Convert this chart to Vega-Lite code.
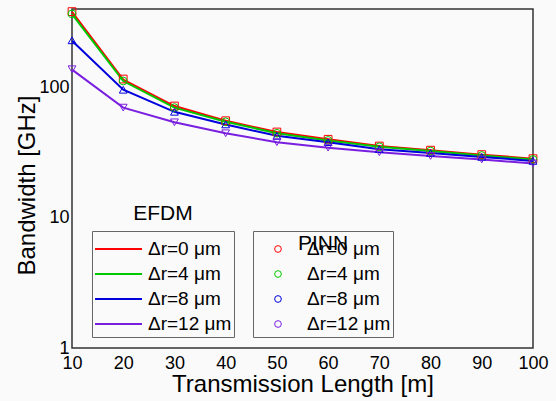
{
  "$schema": "https://vega.github.io/schema/vega-lite/v6.json",
  "width": 461,
  "height": 339,
  "autosize": {"type": "none"},
  "padding": {"left": 72, "top": 9, "right": 23, "bottom": 53},
  "background": "#fafafa",
  "config": {
    "font": "Liberation Sans",
    "view": {"stroke": "#333333", "strokeWidth": 1.5, "fill": "#fafafa"},
    "axis": {"grid": false, "ticks": false, "domain": false, "labelFontSize": 18, "labelColor": "#000000", "titleFontSize": 24, "titleFontWeight": "normal", "titleColor": "#000000"},
    "legend": {"labelFontSize": 19, "titleFontSize": 21, "titleFontWeight": "normal", "titleColor": "#000000", "labelColor": "#000000", "padding": 2, "fillColor": "#fafafa", "strokeColor": "#666666", "titleAnchor": "middle", "orient": "none", "clipHeight": 21, "rowPadding": 4, "titlePadding": -15.5}
  },
  "datasets": {
    "efdm": [
      {"length": 10, "series": "Δr=0 μm", "bandwidth": 380},
      {"length": 20, "series": "Δr=0 μm", "bandwidth": 115},
      {"length": 30, "series": "Δr=0 μm", "bandwidth": 72},
      {"length": 40, "series": "Δr=0 μm", "bandwidth": 55.5},
      {"length": 50, "series": "Δr=0 μm", "bandwidth": 45.5},
      {"length": 60, "series": "Δr=0 μm", "bandwidth": 40},
      {"length": 70, "series": "Δr=0 μm", "bandwidth": 35.5},
      {"length": 80, "series": "Δr=0 μm", "bandwidth": 33},
      {"length": 90, "series": "Δr=0 μm", "bandwidth": 30.5},
      {"length": 100, "series": "Δr=0 μm", "bandwidth": 28.4},
      {"length": 10, "series": "Δr=4 μm", "bandwidth": 365},
      {"length": 20, "series": "Δr=4 μm", "bandwidth": 112},
      {"length": 30, "series": "Δr=4 μm", "bandwidth": 70},
      {"length": 40, "series": "Δr=4 μm", "bandwidth": 54.5},
      {"length": 50, "series": "Δr=4 μm", "bandwidth": 44.5},
      {"length": 60, "series": "Δr=4 μm", "bandwidth": 39.2},
      {"length": 70, "series": "Δr=4 μm", "bandwidth": 35},
      {"length": 80, "series": "Δr=4 μm", "bandwidth": 32.5},
      {"length": 90, "series": "Δr=4 μm", "bandwidth": 30},
      {"length": 100, "series": "Δr=4 μm", "bandwidth": 28},
      {"length": 10, "series": "Δr=8 μm", "bandwidth": 228},
      {"length": 20, "series": "Δr=8 μm", "bandwidth": 96},
      {"length": 30, "series": "Δr=8 μm", "bandwidth": 65},
      {"length": 40, "series": "Δr=8 μm", "bandwidth": 52},
      {"length": 50, "series": "Δr=8 μm", "bandwidth": 42.5},
      {"length": 60, "series": "Δr=8 μm", "bandwidth": 38},
      {"length": 70, "series": "Δr=8 μm", "bandwidth": 33.6},
      {"length": 80, "series": "Δr=8 μm", "bandwidth": 31.4},
      {"length": 90, "series": "Δr=8 μm", "bandwidth": 29.3},
      {"length": 100, "series": "Δr=8 μm", "bandwidth": 27.3},
      {"length": 10, "series": "Δr=12 μm", "bandwidth": 137},
      {"length": 20, "series": "Δr=12 μm", "bandwidth": 70},
      {"length": 30, "series": "Δr=12 μm", "bandwidth": 54},
      {"length": 40, "series": "Δr=12 μm", "bandwidth": 44.5},
      {"length": 50, "series": "Δr=12 μm", "bandwidth": 38},
      {"length": 60, "series": "Δr=12 μm", "bandwidth": 34.5},
      {"length": 70, "series": "Δr=12 μm", "bandwidth": 31.8},
      {"length": 80, "series": "Δr=12 μm", "bandwidth": 29.8},
      {"length": 90, "series": "Δr=12 μm", "bandwidth": 28},
      {"length": 100, "series": "Δr=12 μm", "bandwidth": 26.1}
    ],
    "pinn": [
      {"length": 10, "series": "Δr=0 μm", "bandwidth": 382},
      {"length": 20, "series": "Δr=0 μm", "bandwidth": 116},
      {"length": 30, "series": "Δr=0 μm", "bandwidth": 72},
      {"length": 40, "series": "Δr=0 μm", "bandwidth": 55.5},
      {"length": 50, "series": "Δr=0 μm", "bandwidth": 45.5},
      {"length": 60, "series": "Δr=0 μm", "bandwidth": 40},
      {"length": 70, "series": "Δr=0 μm", "bandwidth": 35.5},
      {"length": 80, "series": "Δr=0 μm", "bandwidth": 33},
      {"length": 90, "series": "Δr=0 μm", "bandwidth": 30.5},
      {"length": 100, "series": "Δr=0 μm", "bandwidth": 28.4},
      {"length": 10, "series": "Δr=4 μm", "bandwidth": 367},
      {"length": 20, "series": "Δr=4 μm", "bandwidth": 112},
      {"length": 30, "series": "Δr=4 μm", "bandwidth": 70},
      {"length": 40, "series": "Δr=4 μm", "bandwidth": 54.5},
      {"length": 50, "series": "Δr=4 μm", "bandwidth": 44.5},
      {"length": 60, "series": "Δr=4 μm", "bandwidth": 39.2},
      {"length": 70, "series": "Δr=4 μm", "bandwidth": 35},
      {"length": 80, "series": "Δr=4 μm", "bandwidth": 32.5},
      {"length": 90, "series": "Δr=4 μm", "bandwidth": 30},
      {"length": 100, "series": "Δr=4 μm", "bandwidth": 28},
      {"length": 10, "series": "Δr=8 μm", "bandwidth": 230},
      {"length": 20, "series": "Δr=8 μm", "bandwidth": 96},
      {"length": 30, "series": "Δr=8 μm", "bandwidth": 65},
      {"length": 40, "series": "Δr=8 μm", "bandwidth": 52},
      {"length": 50, "series": "Δr=8 μm", "bandwidth": 42.5},
      {"length": 60, "series": "Δr=8 μm", "bandwidth": 38},
      {"length": 70, "series": "Δr=8 μm", "bandwidth": 33.6},
      {"length": 80, "series": "Δr=8 μm", "bandwidth": 31.4},
      {"length": 90, "series": "Δr=8 μm", "bandwidth": 29.3},
      {"length": 100, "series": "Δr=8 μm", "bandwidth": 27.3},
      {"length": 10, "series": "Δr=12 μm", "bandwidth": 138},
      {"length": 20, "series": "Δr=12 μm", "bandwidth": 70},
      {"length": 30, "series": "Δr=12 μm", "bandwidth": 54},
      {"length": 40, "series": "Δr=12 μm", "bandwidth": 44.5},
      {"length": 50, "series": "Δr=12 μm", "bandwidth": 38},
      {"length": 60, "series": "Δr=12 μm", "bandwidth": 34.5},
      {"length": 70, "series": "Δr=12 μm", "bandwidth": 31.8},
      {"length": 80, "series": "Δr=12 μm", "bandwidth": 29.8},
      {"length": 90, "series": "Δr=12 μm", "bandwidth": 28},
      {"length": 100, "series": "Δr=12 μm", "bandwidth": 26.1}
    ]
  },
  "layer": [
    {
      "data": {"name": "efdm"},
      "mark": {"type": "line", "strokeWidth": 2},
      "encoding": {
        "x": {"field": "length", "type": "quantitative", "scale": {"domain": [10, 100], "nice": false, "zero": false},
          "axis": {"values": [10, 20, 30, 40, 50, 60, 70, 80, 90, 100], "title": "Transmission Length [m]", "labelPadding": 6, "titlePadding": 0, "labelFlush": false, "format": "d"}},
        "y": {"field": "bandwidth", "type": "quantitative", "scale": {"type": "log", "domain": [1, 400], "nice": false},
          "axis": {"values": [1, 10, 100], "title": "Bandwidth [GHz]", "labelPadding": 3, "titlePadding": -1, "titleY": 176, "format": "d"}},
        "stroke": {"field": "series", "type": "nominal", "sort": ["Δr=0 μm", "Δr=4 μm", "Δr=8 μm", "Δr=12 μm"],
          "scale": {"range": ["#ff0000", "#00c800", "#0000dd", "#7a1fe0"]},
          "legend": {"title": "EFDM", "legendX": 20, "legendY": 222, "symbolType": "stroke", "symbolSize": 2209, "symbolStrokeWidth": 2, "symbolOffset": 0, "labelOffset": 5, "symbolFillColor": "transparent",
            "encode": {"title": {"update": {"dy": {"value": -30}}}}}}
      }
    },
    {
      "data": {"name": "pinn"},
      "mark": {"type": "point", "filled": false, "size": 60, "strokeWidth": 1, "opacity": 1},
      "encoding": {
        "x": {"field": "length", "type": "quantitative"},
        "y": {"field": "bandwidth", "type": "quantitative"},
        "color": {"field": "series", "type": "nominal", "sort": ["Δr=0 μm", "Δr=4 μm", "Δr=8 μm", "Δr=12 μm"],
          "scale": {"range": ["#ff0000", "#00c800", "#0000dd", "#7a1fe0"]},
          "legend": {"title": "PINN", "legendX": 181, "legendY": 222, "symbolSize": 45, "symbolStrokeWidth": 1, "symbolOffset": 13.5, "labelOffset": 19.5,
            "encode": {"title": {"update": {"dy": {"value": -30}}}, "symbols": {"update": {"shape": {"signal": "scale('shape', datum.value)"}}}}}},
        "shape": {"field": "series", "type": "nominal",
          "scale": {"domain": ["Δr=0 μm", "Δr=4 μm", "Δr=8 μm", "Δr=12 μm"], "range": ["square", "circle", "triangle-up", "triangle-down"]},
          "legend": null}
      }
    }
  ]
}
